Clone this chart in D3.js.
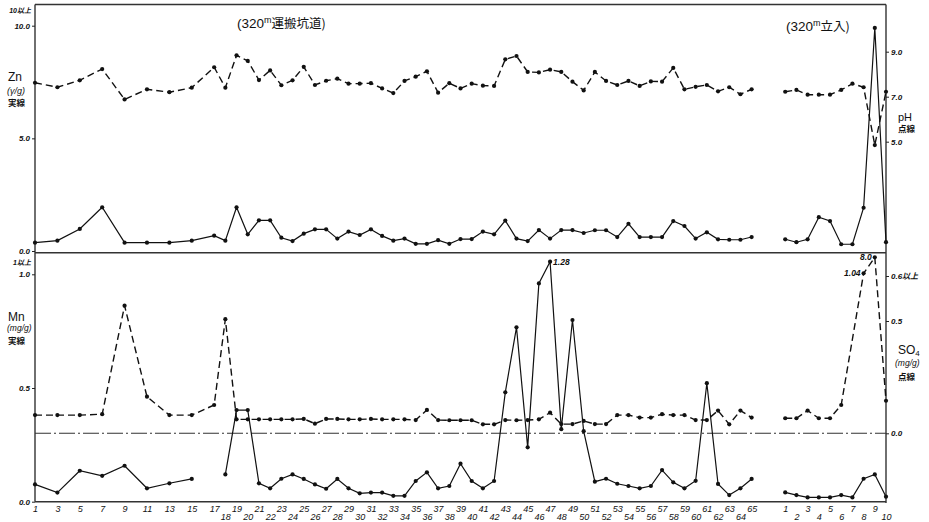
<!DOCTYPE html>
<meta charset="utf-8">
<script src="https://d3js.org/d3.v7.min.js"></script>
<style>
  body { margin: 0; background: #fff; }
  svg text { font-family: "Liberation Sans", "Noto Sans CJK JP", sans-serif; fill: #111; }
  .num text, text.num { font-style: italic; font-weight: bold; font-size: 8px; }
  .xlab text { font-style: italic; font-size: 9px; }
  .jp { font-family: "Noto Sans CJK JP", sans-serif !important; }
</style>

<div id="my_dataviz"></div>

<script>
// sample positions along the two sections (320m haulage drift, 320m crosscut)
var samplesA = d3.range(1, 66);
var samplesB = d3.range(1, 11);

// samples actually measured in section A
var measuredA = [1, 3, 5, 7, 9, 11, 13, 15,
  17, 18, 19, 20, 21, 22, 23, 24, 25, 26,
  27, 28, 29, 30, 31, 32, 33, 34, 35, 36,
  37, 38, 39, 40, 41, 42, 43, 44, 45, 46,
  47, 48, 49, 50, 51, 52, 53, 54, 55, 56,
  57, 58, 59, 60, 61, 62, 63, 64, 65];
// SO4 was not plotted at sample 7 of section B
var measuredBso4 = [1, 2, 3, 4, 5, 6, 8, 9, 10];

// pH (dotted/dashed line, top panel)
var phA = [7.62, 7.42, 7.73, 8.23, 6.88, 7.33, 7.20, 7.40,
  8.31, 7.40, 8.84, 8.59, 7.74, 8.17, 7.51, 7.73, 8.33, 7.52,
  7.71, 7.80, 7.58, 7.58, 7.60, 7.37, 7.16, 7.70, 7.89, 8.13,
  7.18, 7.60, 7.37, 7.58, 7.49, 7.48, 8.66, 8.81, 8.10, 8.08,
  8.20, 8.10, 7.67, 7.28, 8.10, 7.70, 7.52, 7.70, 7.48, 7.68,
  7.67, 8.28, 7.33, 7.44, 7.52, 7.24, 7.42, 7.11, 7.33];
var phB = [7.22, 7.30, 7.09, 7.09, 7.09, 7.30, 7.58, 7.42, 4.85, 7.22];

// Zn, γ/g (solid line, top panel)
var znA = [0.37, 0.46, 0.98, 1.94, 0.37, 0.37, 0.37, 0.46,
  0.68, 0.46, 1.94, 0.74, 1.36, 1.36, 0.59, 0.44, 0.77, 0.96,
  0.96, 0.55, 0.86, 0.71, 0.96, 0.67, 0.46, 0.55, 0.32, 0.32,
  0.48, 0.32, 0.53, 0.53, 0.86, 0.74, 1.35, 0.55, 0.44, 0.93,
  0.55, 0.93, 0.93, 0.80, 0.92, 0.92, 0.62, 1.21, 0.62, 0.62,
  0.62, 1.33, 1.11, 0.55, 0.83, 0.52, 0.50, 0.50, 0.62];
var znB = [0.52, 0.39, 0.52, 1.50, 1.33, 0.30, 0.30, 1.92, 9.90, 0.39];

// SO4, mg/g (dotted/dashed line, bottom panel)
var so4A = [0.081, 0.081, 0.081, 0.085, 0.534, 0.163, 0.081, 0.081,
  0.126, 0.504, 0.062, 0.062, 0.062, 0.062, 0.062, 0.062, 0.064, 0.043,
  0.064, 0.064, 0.062, 0.062, 0.064, 0.062, 0.062, 0.062, 0.059, 0.104,
  0.059, 0.058, 0.058, 0.058, 0.040, 0.040, 0.059, 0.058, 0.059, 0.062,
  0.092, 0.041, 0.041, 0.055, 0.041, 0.041, 0.081, 0.081, 0.070, 0.070,
  0.085, 0.081, 0.081, 0.059, 0.059, 0.101, 0.040, 0.101, 0.070];
var so4B = [0.067, 0.067, 0.101, 0.067, 0.067, 0.126, 1.04, 8.0, 0.145];

// Mn, mg/g (solid line, bottom panel); no value at sample 17
var mnA = [0.076, 0.040, 0.136, 0.114, 0.158, 0.059, 0.081, 0.100,
  null, 0.120, 0.403, 0.403, 0.081, 0.059, 0.101, 0.120, 0.100, 0.076,
  0.057, 0.100, 0.059, 0.037, 0.040, 0.040, 0.026, 0.026, 0.091, 0.129,
  0.059, 0.069, 0.167, 0.091, 0.059, 0.091, 0.481, 0.767, 0.239, 0.960,
  1.28, 0.319, 0.799, 0.31, 0.088, 0.101, 0.079, 0.069, 0.059, 0.069,
  0.139, 0.085, 0.059, 0.092, 0.521, 0.078, 0.029, 0.059, 0.100];
var mnB = [0.041, 0.029, 0.019, 0.019, 0.019, 0.029, 0.019, 0.101, 0.120, 0.022];

// labels written next to off-scale points
var notes = [["A47", "mn", 1.28, "1.28"], ["B8", "so4", 1.04, "1.04"], ["B9", "so4", 8.0, "8.0"]];

var W = 929, H = 522;
var svg = d3.select("#my_dataviz").append("svg")
    .attr("width", W).attr("height", H);

// x: one slot per sample, two empty slots between the sections
var keys = samplesA.map(function(s){ return "A" + s; })
    .concat(["gap1", "gap2"])
    .concat(samplesB.map(function(s){ return "B" + s; }));
var x = d3.scalePoint().domain(keys).range([35, 886]);

var zn = d3.scaleLinear().domain([0, 10]).range([251, 25.7]);
var ph = d3.scaleLinear().domain([5, 9]).range([141.7, 51.7]);
var mn = d3.scaleLinear().domain([0, 1, 1.28]).range([501.7, 274.3, 261.7]);
var so4 = d3.scaleLinear().domain([0, 0.5, 0.6, 1.04, 8.0]).range([433.3, 321, 276, 273.3, 257.3]);
var scales = {zn: zn, ph: ph, mn: mn, so4: so4};

// frame
var frame = svg.append("g").attr("stroke", "#333").attr("stroke-width", 1.4);
[[35, 4.5, 886, 4.5], [35, 252.7, 886, 252.7], [35, 501.7, 886, 501.7],
 [35, 4.5, 35, 501.7], [886, 4.5, 886, 503]].forEach(function(l) {
  frame.append("line").attr("x1", l[0]).attr("y1", l[1]).attr("x2", l[2]).attr("y2", l[3]);
});

// SO4 zero line
svg.append("line")
    .attr("x1", 35).attr("x2", 886)
    .attr("y1", so4(0)).attr("y2", so4(0))
    .attr("stroke", "#333").attr("stroke-width", 1.1)
    .attr("stroke-dasharray", "16,3,2,3");

// axes
function styleAxis(g) {
  g.select(".domain").remove();
  g.attr("font-family", null).attr("font-size", null);
  g.selectAll(".tick line").attr("stroke", "#222");
}
var f1 = d3.format(".1f");
svg.append("g").attr("class", "num").attr("transform", "translate(35,0)")
    .call(d3.axisLeft(zn).tickValues([0, 5, 10]).tickSize(3).tickPadding(2).tickFormat(f1))
    .call(styleAxis);
svg.append("g").attr("class", "num").attr("transform", "translate(886,0)")
    .call(d3.axisRight(ph).tickValues([5, 7, 9]).tickSize(3).tickPadding(2).tickFormat(f1))
    .call(styleAxis);
svg.append("g").attr("class", "num").attr("transform", "translate(35,0)")
    .call(d3.axisLeft(mn).tickValues([0, 0.5, 1]).tickSize(3).tickPadding(2).tickFormat(f1))
    .call(styleAxis);
svg.append("g").attr("class", "num").attr("transform", "translate(886,0)")
    .call(d3.axisRight(so4).tickValues([0, 0.5, 0.6]).tickSize(3).tickPadding(2)
      .tickFormat(function(d){ return d === 0.6 ? "0.6以上" : f1(d); }))
    .call(styleAxis);

svg.append("text").attr("class", "num").attr("x", 31).attr("y", zn(10.7) + 3)
    .attr("text-anchor", "end").style("font-size", "7px").text("10以上");
svg.append("text").attr("class", "num").attr("x", 31).attr("y", mn(1.28) + 3)
    .attr("text-anchor", "end").style("font-size", "7px").text("1以上");

// sample numbers, odd ones on the upper row, even ones below
var oddKeys = keys.filter(function(k){ return k[0] !== "g" && +k.slice(1) % 2 === 1; });
var evenKeys = keys.filter(function(k){
  var n = +k.slice(1);
  return k[0] !== "g" && n % 2 === 0 && (k[0] === "B" || n >= 18);
});
[[oddKeys, 3.5], [evenKeys, 11.5]].forEach(function(row) {
  svg.append("g").attr("class", "xlab").attr("transform", "translate(0,501.7)")
      .call(d3.axisBottom(x).tickValues(row[0]).tickSize(0).tickPadding(row[1])
        .tickFormat(function(k){ return k.slice(1); }))
      .call(styleAxis);
});

// series
function draw(sample, vals, scaleName, dashed) {
  var sc = scales[scaleName];
  var pts = vals.map(function(v, i){ return {k: sample[i], v: v}; });
  svg.append("path")
      .datum(pts)
      .attr("fill", "none")
      .attr("stroke", "#111")
      .attr("stroke-width", dashed ? 1.4 : 1.2)
      .attr("stroke-dasharray", dashed ? "7,4" : null)
      .attr("d", d3.line()
        .defined(function(d){ return d.v !== null; })
        .x(function(d){ return x(d.k); })
        .y(function(d){ return sc(d.v); }));
  svg.append("g").selectAll("circle")
      .data(pts.filter(function(d){ return d.v !== null; }))
      .enter().append("circle")
      .attr("cx", function(d){ return x(d.k); })
      .attr("cy", function(d){ return sc(d.v); })
      .attr("r", 2.1)
      .attr("fill", "#111");
}
var keysA = measuredA.map(function(s){ return "A" + s; });
var keysB = samplesB.map(function(s){ return "B" + s; });
var keysBso4 = measuredBso4.map(function(s){ return "B" + s; });
draw(keysA, phA, "ph", true);
draw(keysB, phB, "ph", true);
draw(keysA, znA, "zn", false);
draw(keysB, znB, "zn", false);
draw(keysA, so4A, "so4", true);
draw(keysBso4, so4B, "so4", true);
draw(keysA, mnA, "mn", false);
draw(keysB, mnB, "mn", false);

notes.forEach(function(n) {
  var sc = scales[n[1]];
  var t = svg.append("text").attr("class", "num").style("font-size", "8.5px")
      .attr("y", sc(n[2]) + 3).text(n[3]);
  if (n[0] === "A47") t.attr("x", x(n[0]) + 3);
  else t.attr("x", x(n[0]) - 3).attr("text-anchor", "end");
});

// section titles
function title(xp, yp, after) {
  var t = svg.append("text").attr("x", xp).attr("y", yp).style("font-size", "13.5px");
  t.append("tspan").text("(320");
  t.append("tspan").attr("dy", -5).style("font-size", "9px").text("m");
  t.append("tspan").attr("dy", 5).attr("class", "jp").style("font-size", "12.5px").text(after);
}
title(237, 28, "運搬坑道)");
title(786, 31, "立入)");

// axis names
function label(xp, yp, txt, size, anchor, italic) {
  svg.append("text").attr("x", xp).attr("y", yp)
      .attr("text-anchor", anchor || "start")
      .style("font-size", size + "px")
      .style("font-style", italic ? "italic" : null)
      .text(txt);
}
label(8, 81, "Zn", 12);
label(7, 94, "(γ/g)", 9, null, true);
svg.append("text").attr("class", "jp").attr("x", 8).attr("y", 106).style("font-size", "8.5px").style("font-weight", "bold").text("実線");
label(8, 321, "Mn", 12);
label(7, 331, "(mg/g)", 8.5, null, true);
svg.append("text").attr("class", "jp").attr("x", 8).attr("y", 344).style("font-size", "8.5px").style("font-weight", "bold").text("実線");

label(898, 121, "pH", 11);
svg.append("text").attr("class", "jp").attr("x", 898).attr("y", 132).style("font-size", "8.5px").style("font-weight", "bold").text("点線");
var s4 = svg.append("text").attr("x", 898).attr("y", 354).style("font-size", "12px");
s4.append("tspan").text("SO");
s4.append("tspan").attr("dy", 2).style("font-size", "8px").text("4");
label(895, 366, "(mg/g)", 8.5, null, true);
svg.append("text").attr("class", "jp").attr("x", 898).attr("y", 380).style("font-size", "8.5px").style("font-weight", "bold").text("点線");
</script>
